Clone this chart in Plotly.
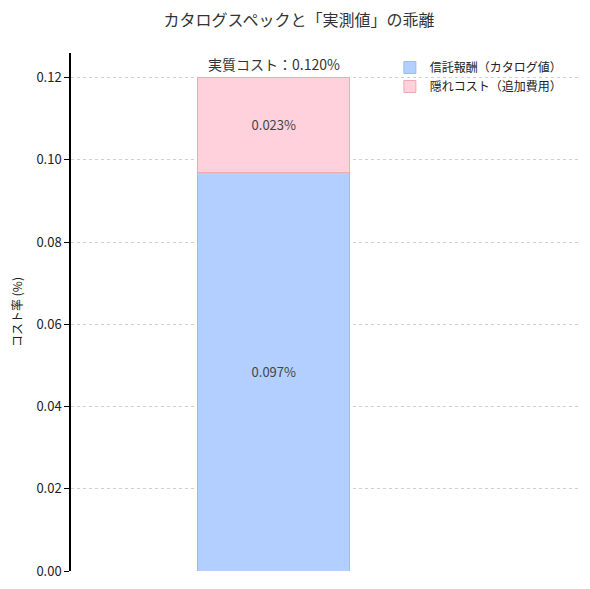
import plotly.graph_objects as go

categories = [0]
catalog_fee = [0.097]
hidden_cost = [0.023]
total_cost = 0.120
series_names = ["信託報酬（カタログ値）", "隠れコスト（追加費用）"]
tick_vals = [0.00, 0.02, 0.04, 0.06, 0.08, 0.10, 0.12]

FONT = "Noto Sans CJK JP, Noto Sans, sans-serif"

fig = go.Figure()
fig.add_trace(go.Bar(
    x=categories, y=catalog_fee, name=series_names[0], width=0.3,
    marker=dict(color="#b3cfff", line=dict(color="#9bbbef", width=1)),
    text=[f"{v:.3f}%" for v in catalog_fee], textposition="inside",
    insidetextanchor="middle", textfont=dict(color="#444444", size=13),
))
fig.add_trace(go.Bar(
    x=categories, y=hidden_cost, name=series_names[1], width=0.3,
    marker=dict(color="#ffd1dc", line=dict(color="#f0a8b4", width=1)),
    text=[f"{v:.3f}%" for v in hidden_cost], textposition="inside",
    insidetextanchor="middle", textfont=dict(color="#444444", size=13),
))
fig.add_annotation(x=categories[0], y=total_cost, text=f"実質コスト：{total_cost:.3f}%",
                   showarrow=False, yanchor="bottom", yshift=2,
                   font=dict(size=14, color="#333333", family=FONT))

fig.update_layout(
    width=582, height=581,
    barmode="stack",
    plot_bgcolor="white", paper_bgcolor="white",
    font=dict(family=FONT, size=13, color="#222222"),
    title=dict(text="カタログスペックと「実測値」の乖離", x=0.5, xanchor="center",
               y=0.9785, yanchor="middle", font=dict(size=16, color="#333333")),
    margin=dict(l=63, r=12, t=45, b=18, autoexpand=False),
    showlegend=True,
    legend=dict(x=0.98, y=1.0, xanchor="right", yanchor="top",
                bgcolor="rgba(255,255,255,0)", font=dict(size=12, color="#222222"),
                traceorder="normal"),
    xaxis=dict(range=[-0.4, 0.6], showticklabels=False, showgrid=False,
               zeroline=False, showline=False, ticks=""),
    yaxis=dict(range=[0, 0.126], tickvals=tick_vals,
               ticktext=[f"{v:.2f}" for v in tick_vals],
               showline=True, linecolor="black", linewidth=1.5,
               ticks="outside", ticklen=5, tickcolor="black",
               showgrid=True, gridcolor="#d0d0d0", griddash="dot", gridwidth=1,
               zeroline=False, automargin=False,
               title=dict(text="コスト率 (%)", font=dict(size=12), standoff=14)),
)
fig.write_html("out.html")
